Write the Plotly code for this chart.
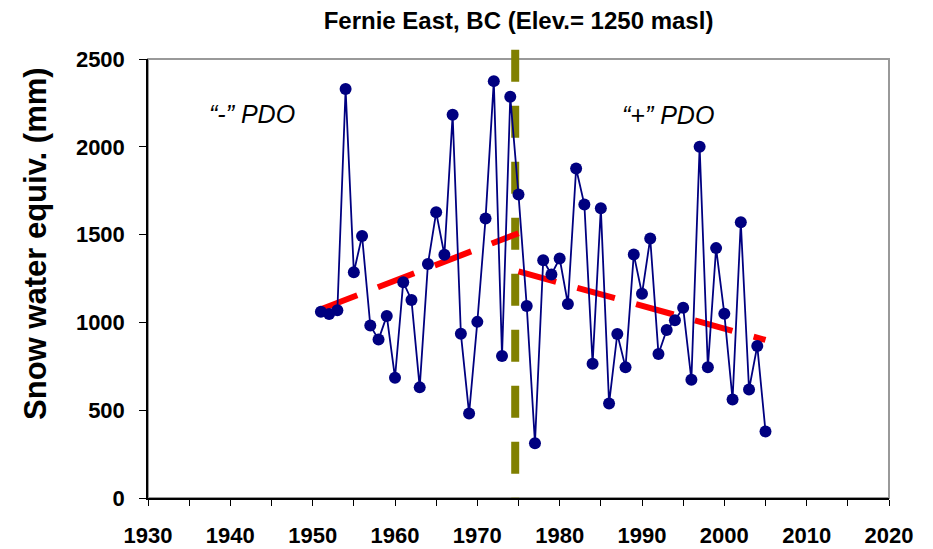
import plotly.graph_objects as go

# ---- data ----
years = list(range(1951, 2006))
swe_mm = [
    1060, 1048, 1069, 2329, 1286, 1492, 982, 902, 1037, 685,
    1229, 1128, 630, 1332, 1627, 1385, 2182, 936, 481, 1003,
    1592, 2374, 809, 2285, 1728, 1094, 312, 1354, 1273, 1364,
    1105, 1876, 1671, 765, 1650, 538, 934, 744, 1387, 1163,
    1478, 820, 957, 1012, 1083, 674, 2000, 744, 1423, 1049,
    561, 1570, 618, 866, 379,
]

# trend lines (start/end year, start/end value)
trend_neg_years = [1951, 1975]
trend_neg_vals = [1075, 1508]
trend_pos_years = [1975, 2005]
trend_pos_vals = [1290, 900]

pdo_shift_year = 1974.6

x_ticks = [1930, 1940, 1950, 1960, 1970, 1980, 1990, 2000, 2010, 2020]
y_ticks = [0, 500, 1000, 1500, 2000, 2500]

title_text = "Fernie East, BC (Elev.= 1250 masl)"
y_title = "Snow water equiv. (mm)"
label_neg = "\u201c-\u201d PDO"
label_pos = "\u201c+\u201d PDO"

FONT = "Liberation Sans, Arial, sans-serif"
NAVY = "#000080"
RED = "#ff0000"
OLIVE = "#808000"

# the page body has an 8px default margin, so the figure is offset by 8px
FIG_W, FIG_H = 925, 541

fig = go.Figure()

fig.add_trace(go.Scatter(
    x=years, y=swe_mm, mode="lines+markers",
    line=dict(color=NAVY, width=1.8),
    marker=dict(color=NAVY, size=12),
    showlegend=False, hoverinfo="x+y",
))

shapes = [
    # grey plot frame
    dict(type="rect", xref="paper", yref="paper", x0=0, x1=1, y0=0, y1=1,
         line=dict(color="#999999", width=2), fillcolor="rgba(0,0,0,0)", layer="below"),
    dict(type="line", xref="x", yref="y",
         x0=trend_neg_years[0], x1=trend_neg_years[1],
         y0=trend_neg_vals[0], y1=trend_neg_vals[1],
         line=dict(color=RED, width=6, dash="39px,22px"), layer="below"),
    dict(type="line", xref="x", yref="y",
         x0=trend_pos_years[0], x1=trend_pos_years[1],
         y0=trend_pos_vals[0], y1=trend_pos_vals[1],
         line=dict(color=RED, width=6, dash="39px,22px"), layer="below"),
    dict(type="line", xref="x", yref="paper",
         x0=pdo_shift_year, x1=pdo_shift_year, y0=1.021, y1=0,
         line=dict(color=OLIVE, width=8, dash="32px,24px"), layer="below"),
]

annotations = [
    dict(text=label_neg, x=1942.6, y=2187, xref="x", yref="y", showarrow=False,
         font=dict(family=FONT, size=25, color="black", style="italic")),
    dict(text=label_pos, x=1993.1, y=2180, xref="x", yref="y", showarrow=False,
         font=dict(family=FONT, size=25, color="black", style="italic")),
    dict(text="<b>" + y_title + "</b>", x=-0.151, y=0.579, xref="paper", yref="paper",
         showarrow=False, textangle=-90, xanchor="center", yanchor="middle",
         font=dict(family=FONT, size=31, color="black")),
]

fig.update_layout(
    width=FIG_W, height=FIG_H,
    margin=dict(l=140, r=44, t=51, b=51, pad=0, autoexpand=False),
    paper_bgcolor="white", plot_bgcolor="white",
    title=dict(text="<b>" + title_text + "</b>", x=0.5, xref="paper",
               y=1 - 13 / FIG_H, yref="container", xanchor="center", yanchor="middle",
               font=dict(family=FONT, size=24, color="black")),
    shapes=shapes,
    annotations=annotations,
    showlegend=False,
)

fig.update_xaxes(
    range=[1930, 2020], tickmode="array", tickvals=x_ticks,
    ticktext=[str(t) for t in x_ticks],
    showgrid=False, zeroline=False, automargin=False,
    showline=True, linecolor="black", linewidth=1.5,
    ticks="outside", ticklen=6, tickwidth=1.3, tickcolor="black",
    minor=dict(ticks="outside", dtick=5, tick0=1930, ticklen=6, tickwidth=1.3, tickcolor="black"),
    tickfont=dict(family=FONT, size=22, color="black", weight="bold"),
    ticklabelstandoff=11,
)
fig.update_yaxes(
    range=[0, 2500], tickmode="array", tickvals=y_ticks,
    ticktext=[str(t) for t in y_ticks],
    showgrid=False, zeroline=False, automargin=False,
    showline=True, linecolor="black", linewidth=1.5,
    ticks="outside", ticklen=7, tickwidth=1.3, tickcolor="black",
    tickfont=dict(family=FONT, size=22, color="black", weight="bold"),
    ticklabelstandoff=10,
)

fig.write_html("out.html")
